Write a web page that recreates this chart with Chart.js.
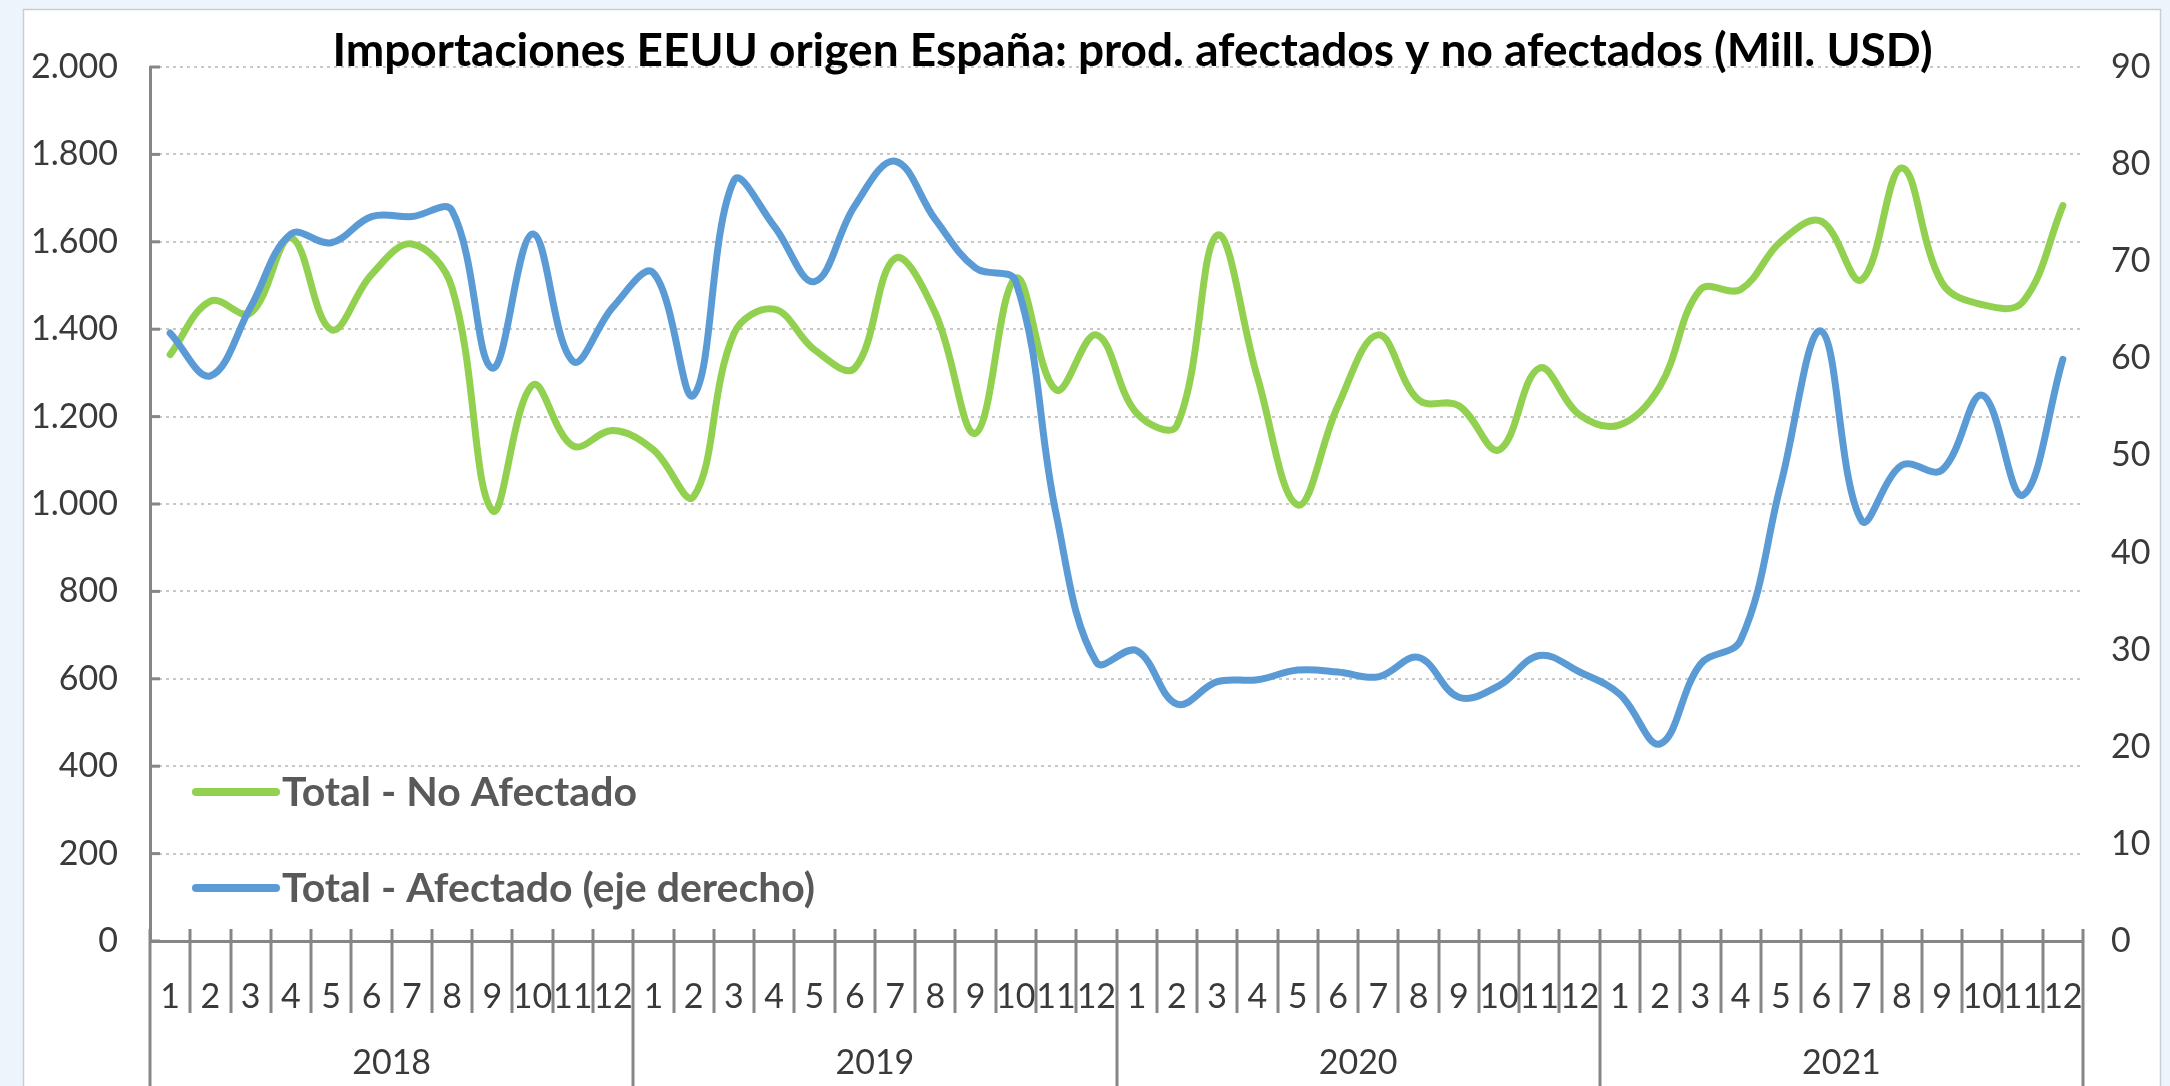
<!DOCTYPE html>
<html>
<head>
<meta charset="utf-8">
<script src="https://cdn.jsdelivr.net/npm/chart.js@4.4.1/dist/chart.umd.min.js"></script>
<style>
  html, body { margin: 0; padding: 0; background: #eef4fb; overflow: hidden; }
  canvas { display: block; }
</style>
</head>
<body>
<canvas id="c" width="2170" height="1086"></canvas>
<script>
// ---------------- DATA ----------------
const TITLE = 'Importaciones EEUU origen España: prod. afectados y no afectados (Mill. USD)';
const years = ['2018', '2019', '2020', '2021'];
const months = ['1', '2', '3', '4', '5', '6', '7', '8', '9', '10', '11', '12'];
const categories = years.flatMap(() => months);

const seriesNames = ['Total - No Afectado', 'Total - Afectado (eje derecho)'];

// Left axis (Mill. USD)
const noAfectado = [
  1342, 1464, 1437, 1609, 1399, 1525, 1595, 1495,  985, 1272, 1133, 1168,
  1124, 1017, 1390, 1446, 1353, 1311, 1562, 1437, 1162, 1517, 1261, 1387,
  1208, 1180, 1615, 1290,  998, 1225, 1387, 1238, 1225, 1124, 1311, 1204,
  1181, 1270, 1491, 1491, 1601, 1647, 1513, 1769, 1506, 1456, 1462, 1683
];
// Right axis (Mill. USD)
const afectado = [
  62.6, 58.2, 65.3, 72.8, 71.9, 74.6, 74.6, 75.2, 59.0, 72.8, 59.7, 65.3,
  68.8, 56.2, 78.3, 73.6, 67.9, 75.7, 80.3, 74.3, 69.3, 67.9, 44.0, 28.7,
  29.9, 24.4, 26.7, 26.9, 27.9, 27.7, 27.2, 29.2, 25.1, 26.3, 29.4, 27.7,
  25.4, 20.3, 28.5, 31.0, 47.1, 62.8, 43.3, 49.0, 48.5, 56.2, 45.9, 59.9
];

const leftAxis = { min: 0, max: 2000, step: 200 };
const rightAxis = { min: 0, max: 90, step: 10 };

// ---------------- STYLE ----------------
const FONT = 'Lato, "Open Sans", "DejaVu Sans", sans-serif';
const GREEN = '#92d050';
const BLUE = '#5b9bd5';
const AXIS = '#868686';
const GRID = '#c8c8c8';
const TXT = '#3a3a3a';
const TICK_SIZE = 34;

function fmtThousands(v) {
  return String(v).replace(/\B(?=(\d{3})+(?!\d))/g, '.');
}

const decor = {
  id: 'decor',
  beforeDraw(chart) {
    const ctx = chart.ctx;
    ctx.save();
    ctx.fillStyle = '#eef4fb';
    ctx.fillRect(0, 0, chart.width, chart.height);
    ctx.fillStyle = '#ffffff';
    ctx.fillRect(23, 9, 2138, chart.height);
    ctx.strokeStyle = '#c9cdd3';
    ctx.lineWidth = 1.5;
    ctx.strokeRect(23.5, 9.5, 2137, chart.height + 20);
    ctx.restore();
  },
  afterDraw(chart) {
    const { ctx, chartArea: a, scales: { x, y } } = chart;
    const n = categories.length;
    ctx.save();
    ctx.strokeStyle = AXIS;
    ctx.lineWidth = 3;
    // category separators (month and year)
    for (let i = 0; i <= n; i++) {
      const px = Math.round(x.getPixelForValue(i - 0.5));
      const isYear = i % months.length === 0;
      ctx.beginPath();
      ctx.moveTo(px, a.bottom - 12);
      ctx.lineTo(px, isYear ? chart.height : a.bottom + 72);
      ctx.stroke();
    }
    // inner tick stubs on left axis
    y.ticks.forEach((t, i) => {
      const py = y.getPixelForTick(i);
      ctx.beginPath();
      ctx.moveTo(a.left, py);
      ctx.lineTo(a.left + 10, py);
      ctx.stroke();
    });
    // year labels
    ctx.fillStyle = TXT;
    ctx.font = `${TICK_SIZE}px ${FONT}`;
    ctx.textAlign = 'center';
    ctx.textBaseline = 'middle';
    years.forEach((yr, k) => {
      const cx = x.getPixelForValue(k * months.length + (months.length - 1) / 2);
      ctx.fillText(yr, cx, 1063);
    });
    // legend (inside plot, bottom-left)
    const items = [chart.data.datasets[1], chart.data.datasets[0]];
    items.forEach((ds, k) => {
      const ly = a.bottom - 149 + k * 96;
      ctx.strokeStyle = ds.borderColor;
      ctx.lineWidth = 8;
      ctx.lineCap = 'round';
      ctx.beginPath();
      ctx.moveTo(a.left + 46, ly);
      ctx.lineTo(a.left + 126, ly);
      ctx.stroke();
      ctx.fillStyle = '#595959';
      ctx.font = `bold 41px ${FONT}`;
      ctx.textAlign = 'left';
      ctx.textBaseline = 'middle';
      ctx.fillText(ds.label, a.left + 132, ly + 1);
    });
    // title
    ctx.fillStyle = '#000000';
    ctx.font = `bold 46px ${FONT}`;
    ctx.textAlign = 'center';
    ctx.textBaseline = 'alphabetic';
    ctx.fillText(TITLE, a.left + a.width / 2 + 16, 66);
    ctx.restore();
  }
};

new Chart(document.getElementById('c'), {
  type: 'line',
  data: {
    labels: categories,
    datasets: [
      {
        label: seriesNames[1],
        data: afectado,
        yAxisID: 'y2',
        borderColor: BLUE,
        backgroundColor: BLUE,
        borderWidth: 7,
        pointRadius: 0,
        tension: 0.38,
        borderCapStyle: 'round',
        borderJoinStyle: 'round',
        fill: false
      },
      {
        label: seriesNames[0],
        data: noAfectado,
        yAxisID: 'y',
        borderColor: GREEN,
        backgroundColor: GREEN,
        borderWidth: 7,
        pointRadius: 0,
        tension: 0.38,
        borderCapStyle: 'round',
        borderJoinStyle: 'round',
        fill: false
      }
    ]
  },
  options: {
    responsive: false,
    animation: false,
    devicePixelRatio: 1,
    layout: { padding: { top: 67, left: 0, right: 0, bottom: 0 } },
    plugins: {
      legend: { display: false },
      title: { display: false },
      tooltip: { enabled: false }
    },
    scales: {
      x: {
        type: 'category',
        offset: true,
        grid: { display: false, offset: true },
        border: { display: true, color: AXIS, width: 3 },
        ticks: {
          autoSkip: false,
          maxRotation: 0,
          minRotation: 0,
          padding: 28,
          color: TXT,
          font: { family: FONT, size: TICK_SIZE }
        },
        afterFit(s) { s.height = 145; }
      },
      y: {
        position: 'left',
        min: leftAxis.min,
        max: leftAxis.max,
        grid: { color: GRID, lineWidth: 2, drawTicks: false },
        border: { display: true, color: AXIS, width: 3, dash: [3, 4] },
        ticks: {
          stepSize: leftAxis.step,
          padding: 32,
          color: TXT,
          font: { family: FONT, size: TICK_SIZE },
          callback: v => fmtThousands(v)
        },
        afterFit(s) { s.width = 150; }
      },
      y2: {
        position: 'right',
        min: rightAxis.min,
        max: rightAxis.max,
        grid: { display: false, drawOnChartArea: false },
        border: { display: false },
        ticks: {
          stepSize: rightAxis.step,
          padding: 20,
          color: TXT,
          font: { family: FONT, size: TICK_SIZE }
        },
        afterFit(s) { s.width = 87; }
      }
    }
  },
  plugins: [decor]
});
</script>
</body>
</html>
